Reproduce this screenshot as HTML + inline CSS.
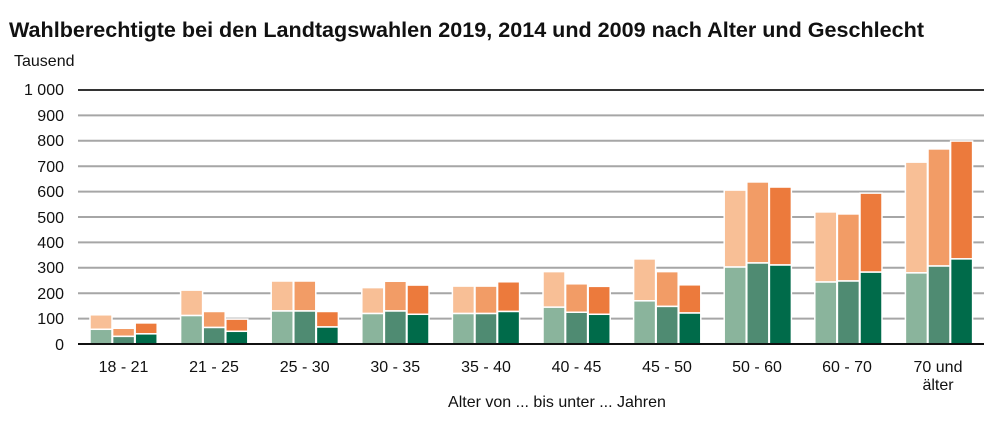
<!DOCTYPE html>
<html><head><meta charset="utf-8"><style>
body{margin:0;background:#fff;}
svg{display:block;font-family:"Liberation Sans",Arial,sans-serif;}
</style></head><body>
<svg width="1000" height="424" viewBox="0 0 1000 424" xmlns="http://www.w3.org/2000/svg">
<text x="9" y="37" font-size="21" font-weight="bold" fill="#111" textLength="915" lengthAdjust="spacingAndGlyphs">Wahlberechtigte bei den Landtagswahlen 2019, 2014 und 2009 nach Alter und Geschlecht</text>
<text x="14" y="66" font-size="16" fill="#111">Tausend</text>
<g stroke="#a6a6a6" stroke-width="2">
<line x1="78" x2="984" y1="318.6" y2="318.6"/><line x1="78" x2="984" y1="293.2" y2="293.2"/>
<line x1="78" x2="984" y1="267.8" y2="267.8"/><line x1="78" x2="984" y1="242.4" y2="242.4"/>
<line x1="78" x2="984" y1="217" y2="217"/><line x1="78" x2="984" y1="191.6" y2="191.6"/>
<line x1="78" x2="984" y1="166.2" y2="166.2"/><line x1="78" x2="984" y1="140.8" y2="140.8"/>
<line x1="78" x2="984" y1="115.4" y2="115.4"/>
</g>
<line x1="78" x2="984" y1="90" y2="90" stroke="#333" stroke-width="2"/>
<g font-size="16" fill="#111" text-anchor="end">
<text x="64" y="350">0</text><text x="64" y="324">100</text><text x="64" y="299">200</text>
<text x="64" y="273">300</text><text x="64" y="248">400</text><text x="64" y="223">500</text>
<text x="64" y="197">600</text><text x="64" y="172">700</text><text x="64" y="146">800</text>
<text x="64" y="121">900</text><text x="64" y="95">1 000</text>
</g>
<g stroke="#fff" stroke-width="1.5">
<rect x="90" y="314.79" width="22" height="14.48" fill="#f8bf96"/><rect x="90" y="329.27" width="22" height="14.73" fill="#8ab49c"/>
<rect x="112.6" y="328.25" width="22" height="8.13" fill="#f29c66"/><rect x="112.6" y="336.38" width="22" height="7.62" fill="#4f8b72"/>
<rect x="135.2" y="322.92" width="22" height="10.92" fill="#ec7a3c"/><rect x="135.2" y="333.84" width="22" height="10.16" fill="#006b4a"/>
<rect x="180.6" y="290.15" width="22" height="25.4" fill="#f8bf96"/><rect x="180.6" y="315.55" width="22" height="28.45" fill="#8ab49c"/>
<rect x="203.2" y="311.49" width="22" height="16" fill="#f29c66"/><rect x="203.2" y="327.49" width="22" height="16.51" fill="#4f8b72"/>
<rect x="225.8" y="319.11" width="22" height="12.19" fill="#ec7a3c"/><rect x="225.8" y="331.3" width="22" height="12.7" fill="#006b4a"/>
<rect x="271.2" y="281.01" width="22" height="29.97" fill="#f8bf96"/><rect x="271.2" y="310.98" width="22" height="33.02" fill="#8ab49c"/>
<rect x="293.8" y="281.01" width="22" height="29.97" fill="#f29c66"/><rect x="293.8" y="310.98" width="22" height="33.02" fill="#4f8b72"/>
<rect x="316.4" y="311.49" width="22" height="15.49" fill="#ec7a3c"/><rect x="316.4" y="326.98" width="22" height="17.02" fill="#006b4a"/>
<rect x="361.8" y="287.61" width="22" height="25.91" fill="#f8bf96"/><rect x="361.8" y="313.52" width="22" height="30.48" fill="#8ab49c"/>
<rect x="384.4" y="281.26" width="22" height="29.72" fill="#f29c66"/><rect x="384.4" y="310.98" width="22" height="33.02" fill="#4f8b72"/>
<rect x="407" y="285.07" width="22" height="29.21" fill="#ec7a3c"/><rect x="407" y="314.28" width="22" height="29.72" fill="#006b4a"/>
<rect x="452.4" y="286.09" width="22" height="27.43" fill="#f8bf96"/><rect x="452.4" y="313.52" width="22" height="30.48" fill="#8ab49c"/>
<rect x="475" y="286.09" width="22" height="27.43" fill="#f29c66"/><rect x="475" y="313.52" width="22" height="30.48" fill="#4f8b72"/>
<rect x="497.6" y="281.77" width="22" height="29.72" fill="#ec7a3c"/><rect x="497.6" y="311.49" width="22" height="32.51" fill="#006b4a"/>
<rect x="543" y="271.61" width="22" height="35.56" fill="#f8bf96"/><rect x="543" y="307.17" width="22" height="36.83" fill="#8ab49c"/>
<rect x="565.6" y="283.8" width="22" height="28.45" fill="#f29c66"/><rect x="565.6" y="312.25" width="22" height="31.75" fill="#4f8b72"/>
<rect x="588.2" y="286.34" width="22" height="27.94" fill="#ec7a3c"/><rect x="588.2" y="314.28" width="22" height="29.72" fill="#006b4a"/>
<rect x="633.6" y="258.91" width="22" height="41.91" fill="#f8bf96"/><rect x="633.6" y="300.82" width="22" height="43.18" fill="#8ab49c"/>
<rect x="656.2" y="271.61" width="22" height="34.8" fill="#f29c66"/><rect x="656.2" y="306.41" width="22" height="37.59" fill="#4f8b72"/>
<rect x="678.8" y="284.82" width="22" height="28.19" fill="#ec7a3c"/><rect x="678.8" y="313.01" width="22" height="30.99" fill="#006b4a"/>
<rect x="724.2" y="190.08" width="22" height="76.96" fill="#f8bf96"/><rect x="724.2" y="267.04" width="22" height="76.96" fill="#8ab49c"/>
<rect x="746.8" y="181.95" width="22" height="81.02" fill="#f29c66"/><rect x="746.8" y="262.97" width="22" height="81.03" fill="#4f8b72"/>
<rect x="769.4" y="187.03" width="22" height="77.98" fill="#ec7a3c"/><rect x="769.4" y="265.01" width="22" height="78.99" fill="#006b4a"/>
<rect x="814.8" y="211.92" width="22" height="70.1" fill="#f8bf96"/><rect x="814.8" y="282.02" width="22" height="61.98" fill="#8ab49c"/>
<rect x="837.4" y="213.95" width="22" height="67.06" fill="#f29c66"/><rect x="837.4" y="281.01" width="22" height="62.99" fill="#4f8b72"/>
<rect x="860" y="193.12" width="22" height="79" fill="#ec7a3c"/><rect x="860" y="272.12" width="22" height="71.88" fill="#006b4a"/>
<rect x="905.4" y="162.14" width="22" height="110.74" fill="#f8bf96"/><rect x="905.4" y="272.88" width="22" height="71.12" fill="#8ab49c"/>
<rect x="928" y="148.93" width="22" height="117.09" fill="#f29c66"/><rect x="928" y="266.02" width="22" height="77.98" fill="#4f8b72"/>
<rect x="950.6" y="141.05" width="22" height="117.86" fill="#ec7a3c"/><rect x="950.6" y="258.91" width="22" height="85.09" fill="#006b4a"/>
</g>
<line x1="78" x2="984" y1="344" y2="344" stroke="#111" stroke-width="2"/>
<g font-size="16" fill="#111" text-anchor="middle">
<text x="123.5" y="372">18 - 21</text><text x="214" y="372">21 - 25</text><text x="304.7" y="372">25 - 30</text>
<text x="395.3" y="372">30 - 35</text><text x="486" y="372">35 - 40</text><text x="576.5" y="372">40 - 45</text>
<text x="667" y="372">45 - 50</text><text x="757" y="372">50 - 60</text><text x="847" y="372">60 - 70</text>
<text x="938" y="372">70 und</text><text x="938" y="390">älter</text>
<text x="557" y="407">Alter von ... bis unter ... Jahren</text>
</g>
</svg>
</body></html>
